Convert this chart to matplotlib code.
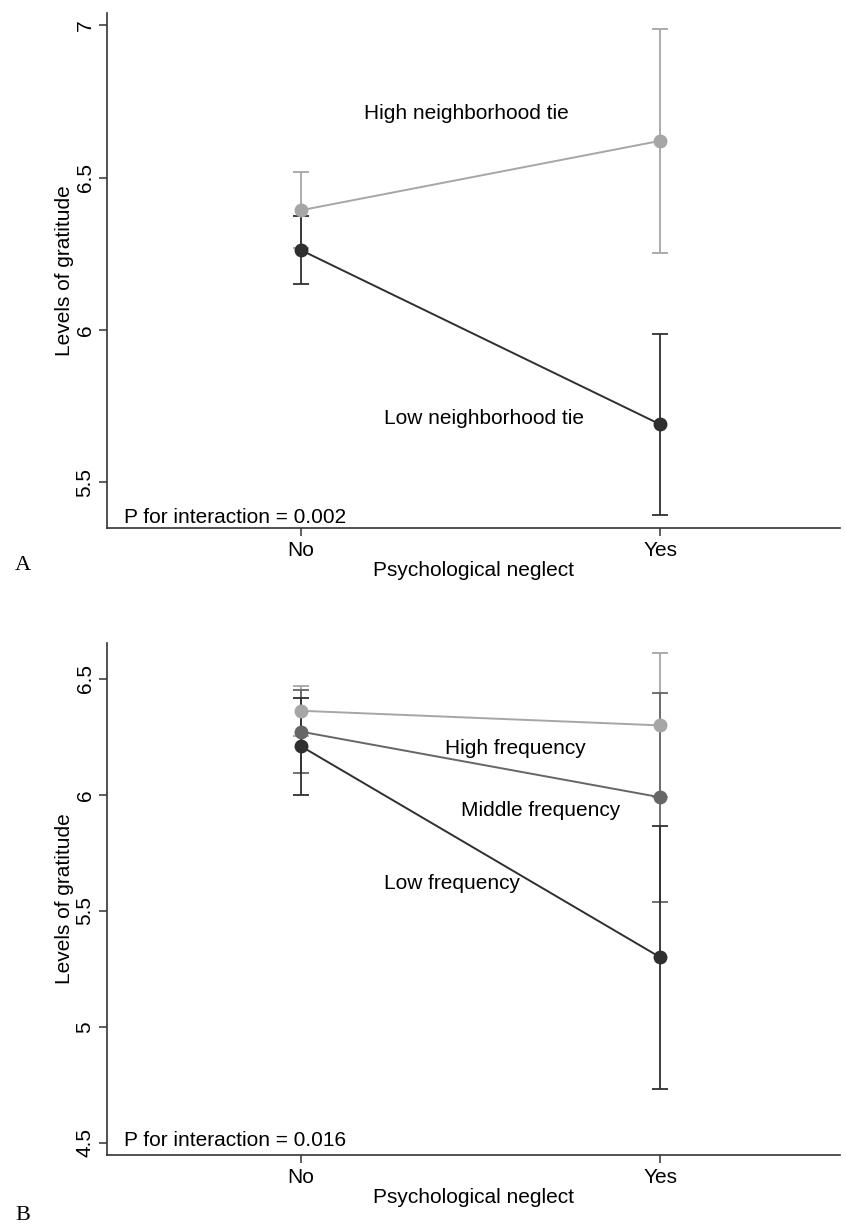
import numpy as np
import matplotlib
matplotlib.use("Agg")
import matplotlib.pyplot as plt

plt.rcParams['font.family'] = ['Liberation Sans', 'DejaVu Sans']

# x categories
groups = ['No', 'Yes']

# Panel A: neighborhood tie
a_high = [6.393, 6.621]
a_high_ci = [0.124, 0.367]
a_low = [6.262, 5.69]
a_low_ci = [0.112, 0.296]

# Panel B: frequency
b_high = [6.363, 6.30]
b_high_ci = [0.108, 0.31]
b_mid = [6.273, 5.99]
b_mid_ci = [0.18, 0.45]
b_low = [6.21, 5.30]
b_low_ci = [0.21, 0.566]

LIGHT = '#a6a6a6'
MID = '#666666'
DARK = '#2f2f2f'
FS = 15


def draw_series(ax, y, ci, color):
    x = np.arange(len(groups))
    ax.errorbar(x, y, yerr=ci, fmt='none', ecolor=color, elinewidth=1.3,
                capsize=5.5, capthick=1.3, zorder=2)
    ax.plot(x, y, '-o', color=color, lw=1.4, ms=9, zorder=3)


def style_axes(ax, ylim, yticks, ylabels):
    ax.set_xlim(-0.54, 1.5)
    ax.set_ylim(*ylim)
    ax.spines['top'].set_visible(False)
    ax.spines['right'].set_visible(False)
    for s in ['left', 'bottom']:
        ax.spines[s].set_color('#333333')
        ax.spines[s].set_linewidth(1.2)
    ax.set_xticks(range(len(groups)))
    ax.set_xticklabels(groups, fontsize=FS)
    ax.set_yticks(yticks)
    ax.set_yticklabels(ylabels, fontsize=FS, rotation=90, va='center')
    ax.tick_params(length=6, width=1.1, color='#333333', pad=3)
    ax.set_xlabel('Psychological neglect', fontsize=FS, labelpad=1)
    ax.set_ylabel('Levels of gratitude', fontsize=FS, labelpad=1)


fig = plt.figure(figsize=(8.46, 12.26), dpi=100)
axA = fig.add_axes([0.1265, 0.5693, 0.8664, 0.42])
axB = fig.add_axes([0.1265, 0.0579, 0.8664, 0.4176])

# Panel A
draw_series(axA, a_high, a_high_ci, LIGHT)
draw_series(axA, a_low, a_low_ci, DARK)
style_axes(axA, (5.35, 7.04), [5.5, 6, 6.5, 7], ['5.5', '6', '6.5', '7'])
axA.text(0.175, 6.71, 'High neighborhood tie', fontsize=FS, va='center')
axA.text(0.23, 5.71, 'Low neighborhood tie', fontsize=FS, va='center')
axA.text(-0.494, 5.386, 'P for interaction = 0.002', fontsize=FS, va='center')

# Panel B
draw_series(axB, b_high, b_high_ci, LIGHT)
draw_series(axB, b_mid, b_mid_ci, MID)
draw_series(axB, b_low, b_low_ci, DARK)
style_axes(axB, (4.448, 6.655), [4.5, 5, 5.5, 6, 6.5], ['4.5', '5', '5.5', '6', '6.5'])
axB.text(0.40, 6.20, 'High frequency', fontsize=FS, va='center')
axB.text(0.445, 5.935, 'Middle frequency', fontsize=FS, va='center')
axB.text(0.23, 5.62, 'Low frequency', fontsize=FS, va='center')
axB.text(-0.494, 4.51, 'P for interaction = 0.016', fontsize=FS, va='center')

fig.text(0.018, 1 - 565 / 1226, 'A', fontsize=16, family='Liberation Serif', va='center')
fig.text(0.018, 1 - 1215 / 1226, 'B', fontsize=16, family='Liberation Serif', va='center')

fig.savefig('out.png', dpi=100)
